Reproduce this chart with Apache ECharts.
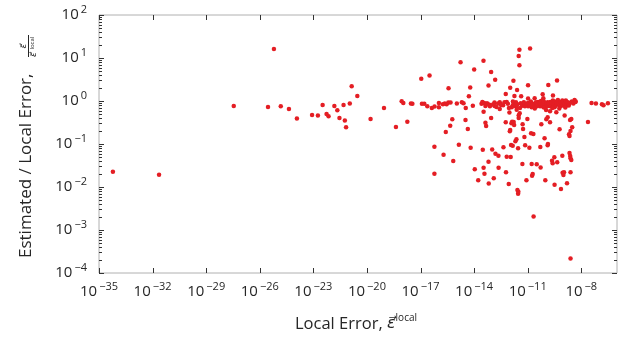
<!DOCTYPE html>
<html>
<head>
<meta charset="utf-8">
<script src="https://cdn.jsdelivr.net/npm/echarts@6/dist/echarts.min.js"></script>
<style>
html,body{margin:0;padding:0;background:#fff;}
#chart{width:630px;height:339px;}
</style>
</head>
<body>
<div id="chart"></div>
<script>
// ---- data: local error (x) and estimated/local ratio (y) ----
const xSparse = [6.0e-35, 2.3e-32, 3.5e-28, 2.9e-26, 6.2e-26, 1.5e-25, 4.3e-25, 1.2e-24, 8.5e-24, 1.8e-23,
  3.3e-23, 5.5e-23, 7.1e-23, 1.5e-22, 2.2e-22, 2.9e-22, 4.9e-22, 5.8e-22, 6.8e-22, 1.1e-21,
  1.4e-21, 2.9e-21, 1.6e-20, 9.0e-20];
const ySparse = [0.0226, 0.0192, 0.77, 0.73, 16.1, 0.76, 0.65, 0.39, 0.47, 0.46,
  0.81, 0.50, 0.44, 0.77, 0.61, 0.40, 0.81, 0.35, 0.245, 0.87,
  2.2, 1.31, 0.38, 0.69];

const xMid = [4.2e-19, 8.8e-19, 1.09e-18, 1.83e-18, 2.9e-18, 3.5e-18, 1.1e-17, 1.2e-17, 1.63e-17, 2.4e-17,
  3.2e-17, 4.3e-17, 6.1e-17, 6.0e-17, 6.0e-17, 1.07e-16, 1.07e-16, 1.78e-16, 2.3e-16, 2.9e-16,
  3.6e-16, 4.8e-16, 1.95e-16, 2.6e-16, 3.7e-16, 4.6e-16, 6.0e-16, 6.8e-16, 1.08e-15, 1.4e-15,
  1.74e-15, 2.06e-15, 2.56e-15, 3.3e-15, 3.4e-15, 4.45e-15, 5.1e-15, 6.05e-15, 6.4e-15, 8.5e-15,
  1.01e-14, 1.09e-14, 1.7e-14, 2.9e-14, 3.06e-14, 3.35e-14, 3.4e-14, 3.4e-14, 3.8e-14, 4.3e-14,
  4.7e-14, 4.9e-14, 6.4e-14, 6.4e-14, 6.6e-14, 7.2e-14, 9.0e-14, 9.0e-14, 1.03e-13, 1.26e-13,
  1.38e-13, 1.4e-13, 1.51e-13, 1.57e-13, 2.3e-13, 2.35e-13, 2.73e-13, 2.73e-13, 4.4e-13, 4.2e-13,
  5.9e-13, 5.9e-13, 6.1e-13, 6.7e-13, 6.7e-13, 8.7e-13, 9.5e-13, 1.0e-12, 1.05e-12, 1.23e-12,
  1.34e-12, 1.05e-12, 1.12e-12, 1.17e-12, 1.45e-12, 1.45e-12, 1.28e-12, 1.59e-12, 1.65e-12, 1.74e-12,
  1.81e-12, 1.98e-12, 2.05e-12, 2.34e-12, 2.42e-12, 2.42e-12, 2.66e-12, 2.55e-12, 2.66e-12, 2.9e-12,
  3.0e-12, 3.14e-12, 3.14e-12, 3.14e-12, 3.44e-12, 3.44e-12, 2.9e-12, 3.57e-12, 4.3e-12, 4.1e-12,
  4.9e-12, 5.06e-12, 5.2e-12, 5.5e-12, 6.55e-12, 7.2e-12, 7.6e-12, 8.5e-12, 9.6e-12, 1.05e-11,
  1.08e-11, 1.05e-11, 1.05e-11, 1.24e-11, 1.36e-11, 1.55e-11, 1.66e-11, 1.67e-11, 1.76e-11, 1.9e-11,
  2.08e-11, 2.14e-11, 2.37e-11, 2.45e-11, 3.2e-11, 3.8e-11, 3.9e-11, 4.9e-11, 5.1e-11, 5.3e-11,
  5.8e-11, 6.4e-11, 6.9e-11, 7.5e-11, 8.6e-11, 8.8e-11, 9.7e-11, 1.07e-10, 1.1e-10, 1.31e-10,
  1.31e-10, 1.36e-10, 1.31e-10, 1.43e-10, 1.63e-10, 1.78e-10, 1.84e-10, 1.78e-10, 2.3e-10, 2.5e-10,
  2.6e-10, 3.1e-10, 3.2e-10, 3.2e-10, 4.0e-10, 4.4e-10, 4.5e-10, 6.1e-10, 7.3e-10, 7.9e-10,
  8.7e-10, 9.0e-10, 1.08e-9, 1.0e-9, 1.17e-9, 1.27e-9, 1.45e-9, 1.59e-9, 2.06e-9, 2.2e-9,
  2.2e-9, 2.4e-9, 2.35e-9, 2.5e-9, 2.5e-9, 2.5e-9, 2.76e-9, 3.1e-9, 2.76e-9, 2.5e-9,
  4.2e-9, 4.6e-9, 2.37e-8, 3.76e-8, 6.6e-8, 1.43e-7, 1.76e-7, 3.1e-7];
const yMid = [0.249, 0.99, 0.90, 0.33, 0.87, 0.86, 3.3, 0.86, 0.86, 0.76,
  3.9, 0.69, 0.74, 0.0865, 0.0203, 0.90, 0.72, 0.84, 0.87, 0.84,
  0.92, 0.92, 0.0563, 0.19, 1.99, 0.267, 0.377, 0.0402, 0.87, 0.096,
  8.0, 0.94, 0.89, 0.362, 0.69, 0.224, 1.29, 2.05, 0.082, 0.78,
  5.4, 0.0257, 0.0143, 0.95, 0.0737, 8.6, 0.566, 0.028, 0.0203, 0.314,
  0.263, 0.87, 2.29, 0.0387, 0.0121, 0.82, 4.7, 0.404, 0.074, 0.0159,
  0.92, 0.77, 3.1, 0.0594, 0.0534, 0.028, 0.94, 0.65, 0.0838, 0.80,
  1.46, 0.32, 0.0219, 0.95, 0.0506, 0.0117, 0.537, 0.198, 0.212, 0.304,
  0.331, 2.02, 0.0498, 0.0948, 0.0912, 0.80, 0.72, 2.94, 0.326, 0.277,
  1.31, 0.77, 0.1156, 0.129, 0.72, 0.63, 0.84, 1.81, 0.00847, 0.00695,
  0.00773, 0.404, 0.467, 11.1, 6.8, 15.5, 0.0794, 0.52, 1.29, 0.89,
  0.78, 0.0342, 0.288, 0.224, 0.146, 0.0932, 0.82, 0.0143, 0.383, 0.76,
  0.90, 2.33, 1.14, 0.082, 16.6, 0.178, 0.72, 0.0342, 0.0182, 0.020,
  0.171, 0.00206, 0.78, 1.16, 0.0337, 0.95, 0.86, 0.76, 0.085, 0.0286,
  0.288, 0.76, 1.44, 1.16, 0.80, 0.136, 0.0143, 0.62, 0.377, 0.42,
  0.0932, 0.10, 0.94, 2.37, 0.77, 0.578, 0.95, 0.32, 0.0408, 0.0355,
  1.34, 0.049, 0.0113, 0.72, 0.548, 2.99, 0.0374, 0.22, 0.00893, 0.78,
  0.0534, 0.0214, 0.0219, 0.0189, 0.457, 0.74, 0.97, 0.0123, 0.168, 0.154,
  0.0617, 0.0525, 0.362, 0.0464, 0.201, 0.000217, 0.383, 0.245, 0.0424, 0.0219,
  1.06, 0.95, 0.326, 0.90, 0.87, 0.84, 0.80, 0.89];

const xBand = [2.6e-14, 3.6e-14, 4.3e-14, 5.6e-14, 7.7e-14, 1.14e-13, 1.8e-13, 2.2e-13, 3.2e-13, 5.0e-13,
  7.8e-13, 8.9e-13, 1.7e-12, 2.2e-12, 3.7e-12, 6.1e-12, 7.0e-12, 9.0e-12, 1.33e-11, 1.5e-11,
  1.95e-11, 2.9e-11, 3.3e-11, 4.5e-11, 5.5e-11, 7.1e-11, 8.1e-11, 1.1e-10, 1.18e-10, 1.53e-10,
  1.98e-10, 2.25e-10, 2.56e-10, 2.9e-10, 3.3e-10, 3.8e-10, 4.3e-10, 4.9e-10, 5.5e-10, 6.3e-10,
  6.7e-10, 7.6e-10, 8.7e-10, 9.3e-10, 1.05e-9, 1.2e-9, 1.36e-9, 1.55e-9, 1.76e-9, 2.0e-9,
  2.3e-9, 2.95e-9, 3.6e-9, 4.9e-9, 8.1e-11, 2.5e-11, 2.4e-10, 5.9e-10, 1.28e-9, 1.49e-12];
const yBand = [0.86, 0.90, 0.77, 0.88, 0.75, 0.83, 0.73, 0.88, 0.81, 0.93,
  0.86, 0.69, 0.83, 0.93, 0.69, 0.93, 0.75, 0.88, 0.81, 0.98,
  0.86, 0.93, 0.75, 0.90, 1.0, 0.86, 0.98, 0.88, 0.75, 0.86,
  0.75, 0.90, 1.03, 0.83, 0.98, 0.79, 0.90, 1.06, 0.86, 0.77,
  0.95, 0.88, 1.03, 0.83, 0.93, 0.86, 1.03, 0.83, 0.93, 0.79,
  0.90, 0.98, 0.88, 0.98, 0.71, 0.67, 0.69, 0.67, 0.71, 0.98];

// ---- axis ticks and tick labels ----
const xTickVals = [1e-35, 1e-32, 1e-29, 1e-26, 1e-23, 1e-20, 1e-17, 1e-14, 1e-11, 1e-8];
const xTickLabels = ['\u221235', '\u221232', '\u221229', '\u221226', '\u221223', '\u221220', '\u221217', '\u221214', '\u221211', '\u22128'];
const yTickVals = [1e-4, 1e-3, 1e-2, 1e-1, 1e0, 1e1, 1e2];
const yMinorVals = [];
for (let e = -4; e < 2; e++) { for (let m = 2; m <= 9; m++) yMinorVals.push(m * Math.pow(10, e)); }

const points = [];
[[xSparse, ySparse], [xMid, yMid], [xBand, yBand]].forEach(([xs, ys]) => {
  xs.forEach((x, i) => points.push([x, ys[i]]));
});

const FONT = '"Open Sans", "DejaVu Sans", sans-serif';
const TXT = '#262626';
const TICK = '#333333';
const sup = e => String(e).replace('-', '\u2212');

const labelRich = {
  b: { fontSize: 15, fontFamily: FONT, color: TXT, fill: TXT, lineHeight: 22 },
  s: { fontSize: 11, fontFamily: FONT, color: TXT, fill: TXT, lineHeight: 10, verticalAlign: 'top', padding: [0, 0, 0, 2] }
};

const chart = echarts.init(document.getElementById('chart'), null, { renderer: 'canvas' });

const tickLine = (x1, y1, x2, y2) => ({
  type: 'line', shape: { x1, y1, x2, y2 },
  style: { stroke: TICK, lineWidth: 1 }
});

chart.setOption({
  animation: false,
  backgroundColor: '#ffffff',
  grid: {
    left: 99, top: 15, right: 13, bottom: 66,
    show: true, borderColor: '#b0b0b0', borderWidth: 1,
    containLabel: false, outerBoundsMode: 'none'
  },
  xAxis: {
    type: 'log', logBase: 10, min: 1e-35, max: 1e-6,
    axisLine: { show: false }, axisTick: { show: false }, splitLine: { show: false },
    axisLabel: { show: false }
  },
  yAxis: {
    type: 'log', logBase: 10, min: 1e-4, max: 1e2, interval: 1,
    axisLine: { show: false }, axisTick: { show: false }, splitLine: { show: false },
    axisLabel: {
      margin: 12, showMinLabel: true, showMaxLabel: true,
      formatter: v => '{b|10}{s|' + sup(Math.round(Math.log10(v))) + '}',
      rich: labelRich
    }
  },
  graphic: [{
    type: 'group', x: 26, y: 258, rotation: Math.PI / 2, silent: true,
    children: [
      { type: 'text', x: 0, y: 0, style: { text: 'Estimated / Local Error,', font: '17px ' + FONT, fill: TXT, textAlign: 'left', textVerticalAlign: 'middle' } },
      { type: 'text', x: 212, y: -2, style: { text: '\u03B5\u20D7', font: 'italic 9px "DejaVu Sans"', fill: TXT, textAlign: 'center', textVerticalAlign: 'middle' } },
      { type: 'line', shape: { x1: 201, y1: 2.5, x2: 223, y2: 2.5 }, style: { stroke: TXT, lineWidth: 1 } },
      { type: 'text', x: 201, y: 8, style: { text: '\u03B5\u20D7', font: 'italic 9px "DejaVu Sans"', fill: TXT, textAlign: 'left', textVerticalAlign: 'middle' } },
      { type: 'text', x: 208.5, y: 6, style: { text: 'local', font: '6px ' + FONT, fill: TXT, textAlign: 'left', textVerticalAlign: 'middle' } }
    ]
  }, {
    type: 'text', x: 356, y: 324, silent: true,
    style: {
      text: '{a|Local Error, }{e|\u03B5\u20D7}{s|local}',
      textAlign: 'center', textVerticalAlign: 'middle',
      rich: {
        a: { fontSize: 16.5, fontFamily: FONT, fill: TXT, lineHeight: 22 },
        e: { fontSize: 16, fontFamily: '"DejaVu Sans"', fontStyle: 'italic', fill: TXT, lineHeight: 22 },
        s: { fontSize: 10, fontFamily: FONT, fill: TXT, lineHeight: 10, verticalAlign: 'top' }
      }
    }
  }],
  series: [
    {
      type: 'scatter', data: points, symbol: 'circle', symbolSize: 4.5,
      itemStyle: { color: '#e41e24', opacity: 1 }, silent: true, z: 4
    },
    {
      type: 'custom', silent: true, z: 3,
      data: xTickVals.map((v, i) => [v, 1e-4, i]),
      renderItem: (params, api) => {
        const p = api.coord([api.value(0), api.value(1)]);
        const cs = params.coordSys;
        const x = Math.round(p[0]) + 0.5;
        const lbl = xTickLabels[params.dataIndex];
        return { type: 'group', children: [
          tickLine(x, cs.y + cs.height, x, cs.y + cs.height - 5),
          tickLine(x, cs.y, x, cs.y + 5),
          { type: 'text', x: p[0], y: cs.y + cs.height + 8,
            style: { text: '{b|10}{s|' + lbl + '}', rich: labelRich, align: 'center', verticalAlign: 'top' } }
        ] };
      }
    },
    {
      type: 'custom', silent: true, z: 3,
      data: yTickVals.map(v => [1e-35, v]),
      renderItem: (params, api) => {
        const p = api.coord([api.value(0), api.value(1)]);
        const cs = params.coordSys;
        const y = Math.round(p[1]) + 0.5;
        return { type: 'group', children: [
          tickLine(cs.x, y, cs.x + 5, y),
          tickLine(cs.x + cs.width, y, cs.x + cs.width - 5, y)
        ] };
      }
    },
    {
      type: 'custom', silent: true, z: 3,
      data: yMinorVals.map(v => [1e-35, v]),
      renderItem: (params, api) => {
        const p = api.coord([api.value(0), api.value(1)]);
        const cs = params.coordSys;
        const y = Math.round(p[1]) + 0.5;
        return { type: 'group', children: [
          tickLine(cs.x, y, cs.x + 3, y),
          tickLine(cs.x + cs.width, y, cs.x + cs.width - 3, y)
        ] };
      }
    }
  ]
});
</script>
</body>
</html>
